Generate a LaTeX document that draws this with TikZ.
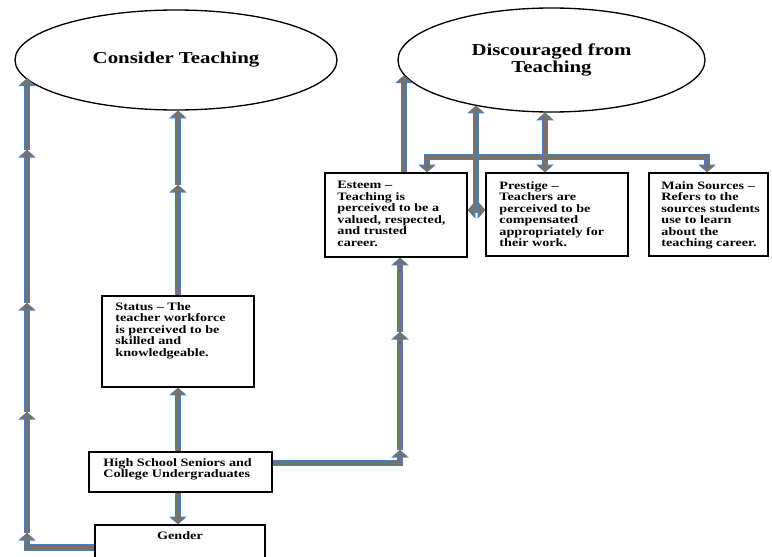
\documentclass[tikz,border=0pt]{standalone}
\usepackage{fontspec}
\usetikzlibrary{shapes.geometric,arrows.meta}
\newfontfamily\figfont{Liberation Serif}[FakeStretch=1.25, Ligatures=TeX]
\definecolor{flowgray}{HTML}{767171}
\definecolor{flowblue}{HTML}{4A7EBB}
\tikzset{
  flowtip/.tip={Triangle[length=0pt 1.2, width=0pt 2.7]},
  flow/.style={draw=flowgray, line width=3.6pt, line join=miter, -{flowtip},
    preaction={draw=flowblue, line width=4.8pt}},
  goal/.style={ellipse, draw, line width=1pt, inner sep=0pt, align=center,
    font=\figfont\bfseries\fontsize{12.5}{10.5}\selectfont},
  factor/.style={draw, line width=1.2pt, inner sep=0pt},
  factortext/.style={anchor=north west, inner sep=0pt, align=left,
    font=\figfont\bfseries\fontsize{8.5}{8.6}\selectfont}
}
\begin{document}
\begin{tikzpicture}[x=0.75pt, y=-0.75pt]
    \clip (0,0) rectangle (772,557);

    % Ovalos de resultado
    \node[goal, minimum width=241.5pt, minimum height=75pt] (consider) at (176,60) {Consider Teaching};
    \node[goal, minimum width=230.25pt, minimum height=78pt] (discour) at (551.5,60) {Discouraged from\\Teaching};

    % Cajas de factores
    \node[factor, minimum width=106.5pt, minimum height=63pt] (esteem) at (396,215) {};
    \node[factor, minimum width=106.5pt, minimum height=62.25pt] (prestige) at (557,214.5) {};
    \node[factor, minimum width=89.25pt, minimum height=62.25pt] (sources) at (708.5,214.5) {};
    \node[factor, minimum width=114pt, minimum height=68.25pt] (status) at (178,341.5) {};
    \node[factor, minimum width=137.25pt, minimum height=30pt] (hs) at (180.5,472) {};
    \node[factor, minimum width=127.5pt, minimum height=33.75pt] (gender) at (180,547.5) {};

    % Textos de las cajas
    \node[factortext] (esteemtxt) at ([shift={(13,9)}]esteem.north west)
        {Esteem –\\Teaching is\\perceived to be a\\valued, respected,\\and trusted\\career.};
    \node[factortext] (prestigetxt) at ([shift={(14,9)}]prestige.north west)
        {Prestige –\\Teachers are\\perceived to be\\compensated\\appropriately for\\their work.};
    \node[factortext] (sourcestxt) at ([shift={(13,9)}]sources.north west)
        {Main Sources –\\Refers to the\\sources students\\use to learn\\about the\\teaching career.};
    \node[factortext] (statustxt) at ([shift={(14,7)}]status.north west)
        {Status – The\\teacher workforce\\is perceived to be\\skilled and\\knowledgeable.};
    \node[factortext] (hstxt) at ([shift={(15,7)}]hs.north west)
        {High School Seniors and\\College Undergraduates};
    \node[factortext, anchor=north] (gendertxt) at ([shift={(0,7)}]gender.north) {Gender};

    % Puntos de paso
    \coordinate (l1) at (27,533);
    \coordinate (l2) at (27,412);
    \coordinate (l3) at (27,303);
    \coordinate (l4) at (27,150);
    \coordinate (s1) at (178,185);
    \coordinate (e1) at (400,450);
    \coordinate (e2) at (400,332);
    \coordinate (t1) at ([xshift=6pt]esteem.north);
    \coordinate (b1) at (427,157);
    \coordinate (b2) at (707,157);
    \coordinate (b3) at (545,157);
    \coordinate (m1) at (476,210);

    % Gender -> Consider Teaching
    \draw[flow] (gender.west) -| (l1);
    \foreach \a/\b in {l1/l2, l2/l3, l3/l4}
        \draw[flow] (\a) -- (\b);
    \draw[flow] (l4) -- (l4 |- consider.187);

    % Seniors -> Status -> Consider Teaching, Seniors -> Gender
    \draw[flow] (hs.north -| status.south) -- (status.south);
    \draw[flow] (status.north) -- (s1);
    \draw[flow] (s1) -- (s1 |- consider.south);
    \draw[flow] (hs.south -| status.south) -- (gender.north -| status.south);

    % Seniors -> Esteem
    \draw[flow] ([yshift=6.75pt]hs.east) -| (e1);
    \draw[flow] (e1) -- (e2);
    \draw[flow] (e2) -- (e2 |- esteem.south);

    % Esteem -> Discouraged
    \draw[flow] (t1) -- (t1 |- discour.186);

    % Discouraged <-> factores
    \draw[flow, {flowtip}-{flowtip}] (b1 |- esteem.north) -- (b1) -- (b2) -- (b2 |- sources.north);
    \draw[flow, {flowtip}-{flowtip}] (b3 |- prestige.north) -- (b3 |- discour.263);
    \draw[flow, {flowtip}-{flowtip}] (m1 -| esteem.east) -- (m1 -| prestige.west);
    \draw[flow] (m1) -- (m1 |- discour.211);
\end{tikzpicture}
\end{document}
